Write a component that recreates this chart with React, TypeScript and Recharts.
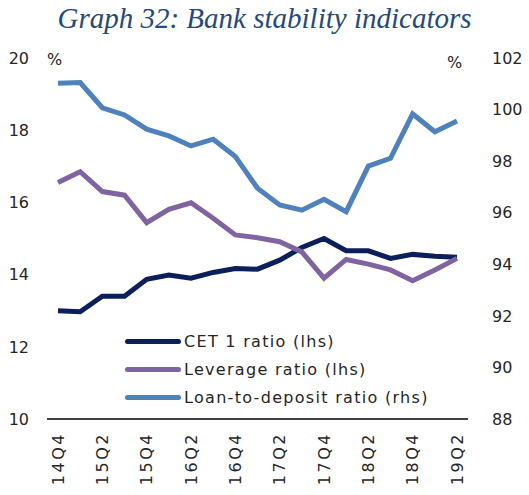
import { Legend, Line, LineChart, XAxis, YAxis } from "recharts"

const quarters = [
    "14Q4", "15Q1", "15Q2", "15Q3", "15Q4", "16Q1", "16Q2", "16Q3", "16Q4", "17Q1",
    "17Q2", "17Q3", "17Q4", "18Q1", "18Q2", "18Q3", "18Q4", "19Q1", "19Q2",
]
const cet1 = [
    13.0, 12.97, 13.4, 13.4, 13.87, 13.99, 13.9, 14.06, 14.17, 14.15,
    14.4, 14.75, 15.0, 14.66, 14.66, 14.45, 14.56, 14.51, 14.48,
]
const leverage = [
    16.55, 16.85, 16.3, 16.2, 15.44, 15.81, 15.99, 15.56, 15.1, 15.02,
    14.91, 14.63, 13.9, 14.42, 14.29, 14.13, 13.83, 14.13, 14.45,
]
const loanToDeposit = [
    101.02, 101.05, 100.07, 99.79, 99.24, 98.98, 98.59, 98.85, 98.18, 96.95,
    96.3, 96.1, 96.52, 96.04, 97.81, 98.11, 99.83, 99.14, 99.56,
]
const leftTicks = [10, 12, 14, 16, 18, 20]
const rightTicks = [88, 90, 92, 94, 96, 98, 100, 102]

const series = [
    { key: "cet1", name: "CET 1 ratio (lhs)", color: "#0B1F5C", axis: "l" },
    { key: "lev", name: "Leverage ratio (lhs)", color: "#8064A2", axis: "l" },
    { key: "ltd", name: "Loan-to-deposit ratio (rhs)", color: "#4F81BD", axis: "r" },
]

const data = quarters.map((q, i) => ({
    q,
    cet1: cet1[i],
    lev: leverage[i],
    ltd: loanToDeposit[i],
}))

const font = "'DejaVu Sans', Verdana, sans-serif"
const textColor = "#262626"

const LeftTick = (props: any) => (
    <text x={29} y={props.y} dy="0.36em" textAnchor="end" fontSize={16} fontFamily={font} fill={textColor}>
        {props.payload.value}
    </text>
)

const RightTick = (props: any) => (
    <text x={492} y={props.y} dy="0.36em" textAnchor="start" fontSize={16} fontFamily={font} fill={textColor}>
        {props.payload.value}
    </text>
)

const BottomTick = (props: any) => {
    const x = props.x
    const y = 432
    return (
        <text x={x} y={y} dy="0.36em" textAnchor="end" fontSize={16} fontFamily={font} fill={textColor}
            letterSpacing={2.5} transform={`rotate(-90, ${x}, ${y})`}>
            {props.payload.value}
        </text>
    )
}

const LegendBox = () => (
    <div style={{ fontFamily: font, fontSize: 16, color: textColor, letterSpacing: "1.3px", textAlign: "left" }}>
        {series.map(s => (
            <div key={s.key} style={{ display: "flex", alignItems: "center", height: 28, whiteSpace: "nowrap" }}>
                <div style={{ width: 56, height: 5, borderRadius: 3, background: s.color, marginRight: 3 }} />
                <span>{s.name}</span>
            </div>
        ))}
    </div>
)

const App = () => {
    return <div style={{ position: "absolute", left: 0, top: 0, width: 529, height: 495 }}>
        <div style={{
            position: "absolute", left: 0, top: 0, width: 529, textAlign: "center",
            fontFamily: "'Liberation Serif', 'Times New Roman', serif", fontStyle: "italic",
            fontSize: 29, color: "#24497C", lineHeight: "36px",
        }}>
            Graph 32: Bank stability indicators
        </div>
        <div style={{ position: "absolute", left: 47, top: 50, fontFamily: font, fontSize: 16, color: textColor }}>%</div>
        <div style={{ position: "absolute", left: 447, top: 53, fontFamily: font, fontSize: 16, color: textColor }}>%</div>
        <div style={{ position: "absolute", left: 0, top: 0 }}>
            <LineChart width={529} height={495} data={data} margin={{ top: 58, right: 0, bottom: 0, left: 0 }}>
                <XAxis dataKey="q" interval={1} height={76} padding={{ left: 11, right: 11 }}
                    tickLine={false} axisLine={{ stroke: "#000", strokeWidth: 1.5 }} tick={<BottomTick />} />
                <YAxis yAxisId="l" orientation="left" width={47} domain={[10, 20]} ticks={leftTicks}
                    axisLine={false} tickLine={false} tick={<LeftTick />} />
                <YAxis yAxisId="r" orientation="right" width={61} domain={[88, 102]} ticks={rightTicks}
                    axisLine={false} tickLine={false} tick={<RightTick />} />
                <Legend content={<LegendBox />} layout="vertical" verticalAlign="middle" align="center"
                    wrapperStyle={{ left: 125, top: 327, width: 320 }} />
                {series.map(s => (
                    <Line key={s.key} yAxisId={s.axis} dataKey={s.key} name={s.name} stroke={s.color}
                        strokeWidth={5} dot={false} isAnimationActive={false} type="linear" />
                ))}
            </LineChart>
        </div>
    </div>
}
export default App;
